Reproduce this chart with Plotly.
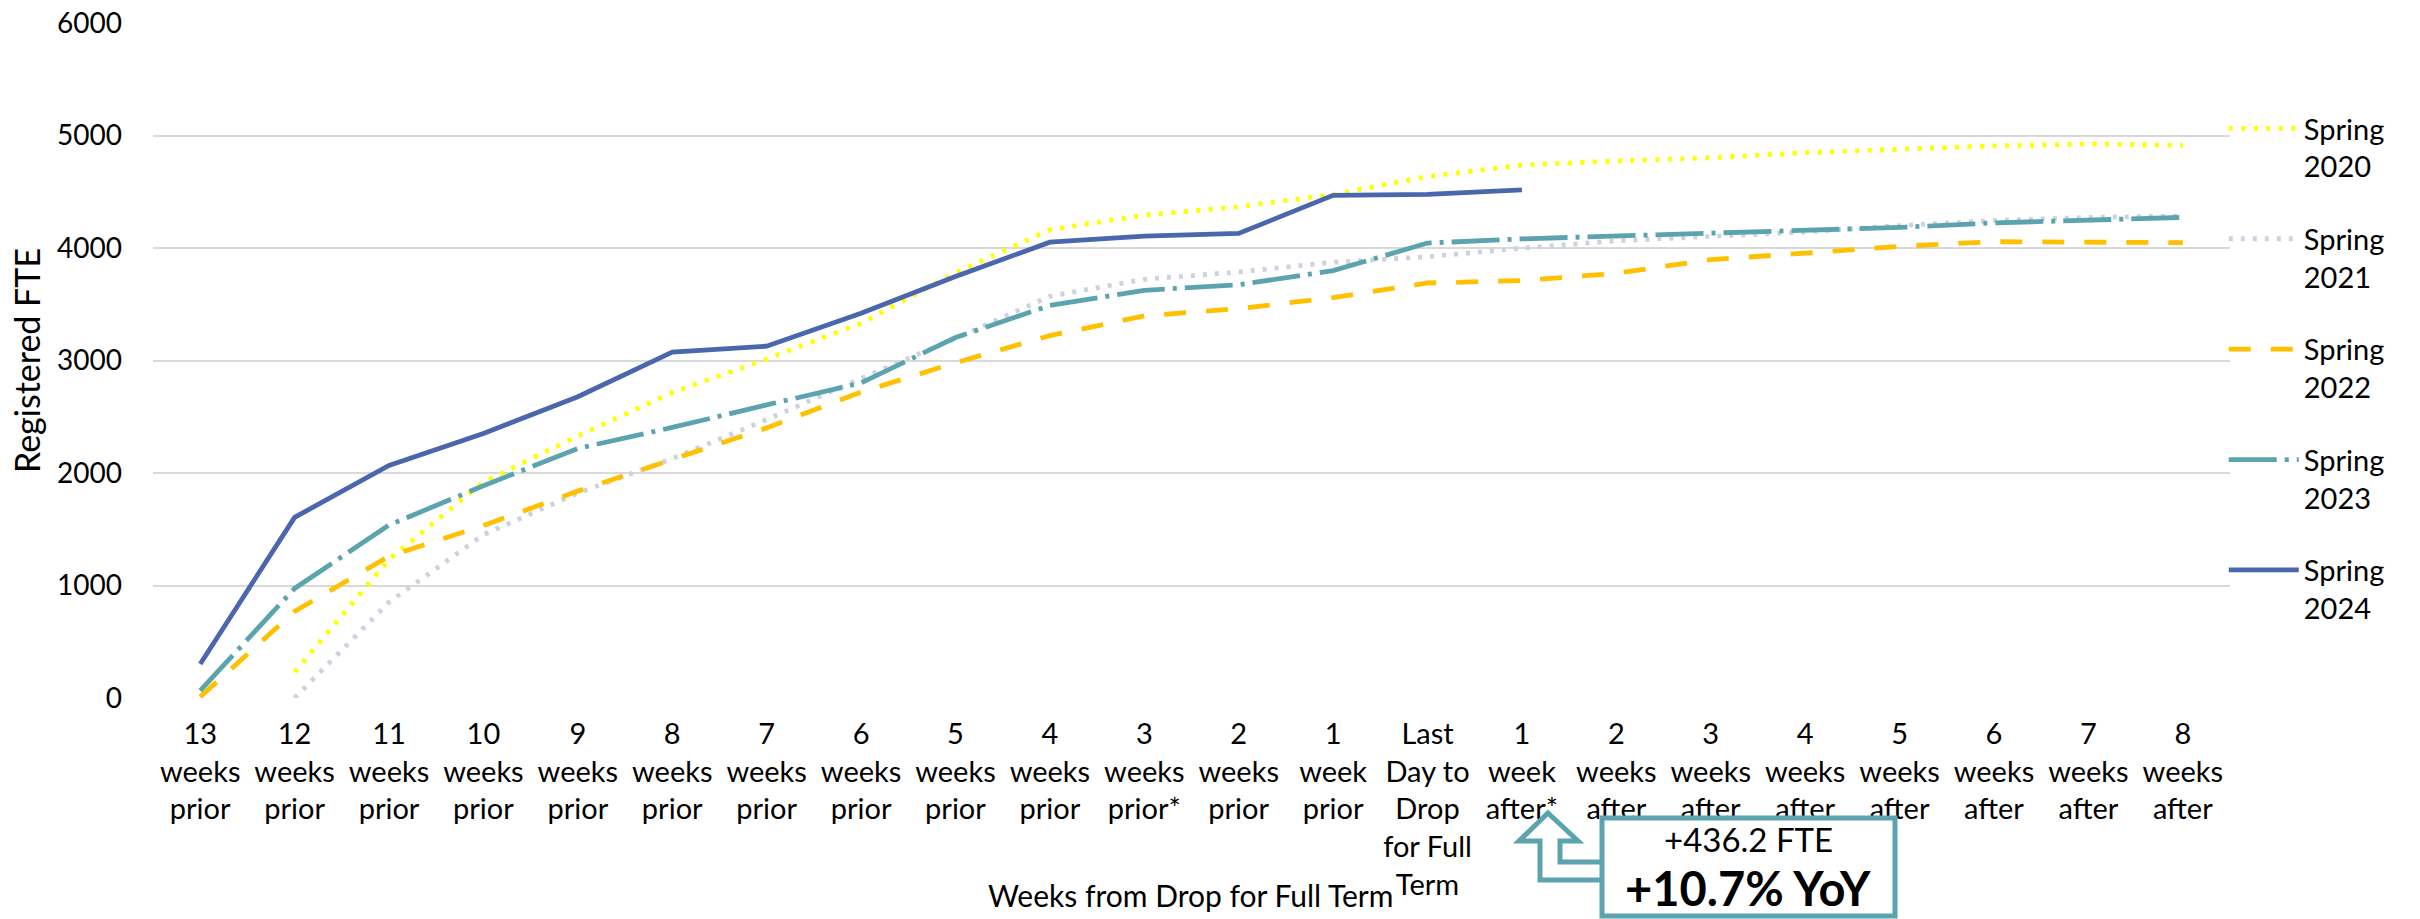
import plotly.graph_objects as go

# ---------------- data ----------------
categories = [
    "13<br>weeks<br>prior", "12<br>weeks<br>prior", "11<br>weeks<br>prior",
    "10<br>weeks<br>prior", "9<br>weeks<br>prior", "8<br>weeks<br>prior",
    "7<br>weeks<br>prior", "6<br>weeks<br>prior", "5<br>weeks<br>prior",
    "4<br>weeks<br>prior", "3<br>weeks<br>prior*", "2<br>weeks<br>prior",
    "1<br>week<br>prior", "Last<br>Day to<br>Drop<br>for Full<br>Term",
    "1<br>week<br>after*", "2<br>weeks<br>after", "3<br>weeks<br>after",
    "4<br>weeks<br>after", "5<br>weeks<br>after", "6<br>weeks<br>after",
    "7<br>weeks<br>after", "8<br>weeks<br>after",
]

spring_2020 = [None, 232, 1230, 1920, 2328, 2715, 3013, 3331, 3779, 4162, 4293,
               4366, 4476, 4635, 4737, 4774, 4802, 4847, 4876, 4908, 4925, 4912]
spring_2021 = [None, 0, 852, 1451, 1822, 2128, 2475, 2841, 3196, 3571, 3722,
               3787, 3873, 3922, 3999, 4064, 4105, 4142, 4199, 4244, 4272, 4285]
spring_2022 = [10, 770, 1260, 1533, 1839, 2116, 2401, 2719, 2980, 3221, 3396,
               3461, 3559, 3689, 3710, 3775, 3897, 3954, 4015, 4056, 4052, 4048]
spring_2023 = [65, 974, 1537, 1887, 2218, 2405, 2605, 2801, 3204, 3490, 3624,
               3673, 3799, 4044, 4081, 4105, 4130, 4162, 4183, 4223, 4252, 4272]
spring_2024 = [302, 1606, 2067, 2352, 2678, 3074, 3127, 3420, 3746, 4052, 4105,
               4130, 4468, 4476, 4517, None, None, None, None, None, None, None]

series_names = ["Spring<br>2020", "Spring<br>2021", "Spring<br>2022",
                "Spring<br>2023", "Spring<br>2024"]
series_values = [spring_2020, spring_2021, spring_2022, spring_2023, spring_2024]

y_ticks = [0, 1000, 2000, 3000, 4000, 5000, 6000]
x_title = "Weeks from Drop for Full Term"
y_title = "Registered FTE"
callout_fte = "+436.2 FTE"
callout_yoy = "+10.7% YoY"

# ---------------- styles ----------------
colors = ["#FFFF00", "#CDD2DE", "#FFC000", "#5BA4AF", "#4A66AC"]
dashes = ["4px,8.5px", "4px,8px", "22px,20px", "48px,8px,4px,8px", "solid"]

FONT = "Lato, 'Open Sans', sans-serif"
W, H = 2420, 919
ML, MR, MT, MB = 153, 190, 23, 221
PW, PH = W - ML - MR, H - MT - MB

def px(x):
    return (x - ML) / PW

def py(y):
    return (H - MB - y) / PH

fig = go.Figure()
for name, vals, col, dsh in zip(series_names, series_values, colors, dashes):
    fig.add_trace(go.Scatter(
        x=categories, y=vals, mode="lines", name=name, legendgroup=name,
        line=dict(color=col, width=4.8, dash=dsh), connectgaps=False,
        hoverinfo="skip",
    ))

fig.update_layout(
    width=W, height=H,
    margin=dict(l=ML, r=MR, t=MT, b=MB, pad=0, autoexpand=False),
    paper_bgcolor="white", plot_bgcolor="white",
    font=dict(family=FONT, size=29, color="#000000"),
    showlegend=True,
    legend=dict(
        x=0.997, xanchor="left", y=py(103), yanchor="top",
        font=dict(family=FONT, size=29, color="#000000"),
        tracegroupgap=32, itemwidth=70, valign="top",
        bgcolor="rgba(0,0,0,0)", borderwidth=0,
    ),
    xaxis=dict(
        type="category", categoryorder="array", categoryarray=categories,
        range=[-0.5, len(categories) - 0.5], automargin=False,
        showgrid=False, zeroline=False, showline=False, ticks="",
        tickfont=dict(family=FONT, size=29, color="#000000"),
        tickangle=0, ticklabelstandoff=16,
    ),
    yaxis=dict(
        range=[0, 6000], tickvals=y_ticks, showgrid=True, automargin=False,
        gridcolor="#D9D9D9", gridwidth=2, zeroline=False, showline=False,
        ticks="", tickfont=dict(family=FONT, size=28, color="#000000"),
        ticklabelstandoff=30,
        title=dict(text=y_title, font=dict(family=FONT, size=34, color="#000000"),
                   standoff=6),
    ),
)

# x-axis title as annotation (sits beside the tall "Last Day" label)
fig.add_annotation(
    x=px(1190), y=py(895), xref="paper", yref="paper", text=x_title,
    showarrow=False, font=dict(family=FONT, size=30, color="#000000"),
    xanchor="center", yanchor="middle",
)

# callout: bent arrow + box
teal = "#5BA4AF"
arrow_pts = [(1548, 813), (1578, 841), (1560, 841), (1560, 862), (1605, 862),
             (1605, 880), (1540, 880), (1540, 841), (1519, 841)]
path = "M " + " L ".join(f"{px(a):.5f},{py(b):.5f}" for a, b in arrow_pts) + " Z"
fig.add_shape(type="path", path=path, xref="paper", yref="paper",
              line=dict(color=teal, width=5), fillcolor="white", layer="above")
fig.add_shape(type="rect", xref="paper", yref="paper",
              x0=px(1602), x1=px(1895), y0=py(916), y1=py(818),
              line=dict(color=teal, width=5), fillcolor="white", layer="above")
fig.add_annotation(x=px(1748), y=py(839), xref="paper", yref="paper",
                   text=callout_fte, showarrow=False,
                   xanchor="center", yanchor="middle",
                   font=dict(family=FONT, size=33, color="#000000"))
fig.add_annotation(x=px(1748), y=py(888), xref="paper", yref="paper",
                   text="<b>" + callout_yoy + "</b>", showarrow=False,
                   xanchor="center", yanchor="middle",
                   font=dict(family=FONT, size=47, color="#000000"))

fig.write_html("out.html", config={"displayModeBar": False},
               post_script="document.body.style.margin='0';document.body.style.overflow='hidden';")
